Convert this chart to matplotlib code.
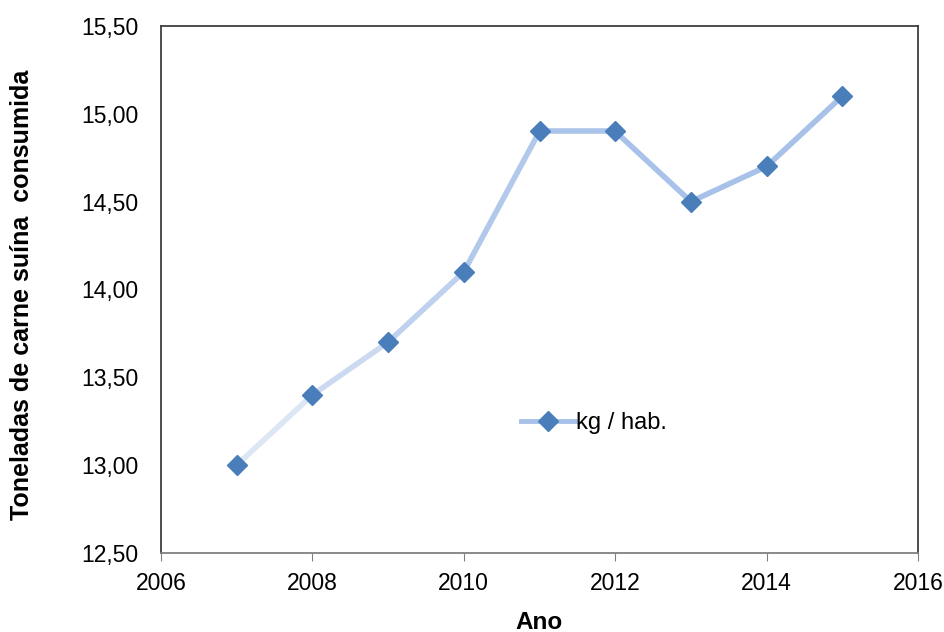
import matplotlib
matplotlib.use("Agg")
import matplotlib.pyplot as plt
from matplotlib.lines import Line2D
from matplotlib.ticker import FuncFormatter

plt.rcParams['font.family'] = ['Liberation Sans', 'DejaVu Sans']

anos = [2007, 2008, 2009, 2010, 2011, 2012, 2013, 2014, 2015]
kg_hab = [13.00, 13.40, 13.70, 14.10, 14.90, 14.90, 14.50, 14.70, 15.10]
serie = "kg / hab."

fig = plt.figure(figsize=(9.45, 6.32), dpi=100)
ax = fig.add_axes([0.1704, 0.125, 0.801, 0.834])

# line fades in from the first point (like the excel gradient)
seg_cols = ['#DCE6F4', '#CBDAF0', '#BED1EE', '#B2C9EB', '#ABC4EA', '#A8C2E9', '#A7C1E9', '#A7C1E9']
for i in range(len(anos) - 1):
    ax.plot(anos[i:i+2], kg_hab[i:i+2], color=seg_cols[i], lw=4, solid_capstyle='round', zorder=2)
ax.plot(anos, kg_hab, ls='none', marker='D', ms=10, color='#4A7EBB', zorder=3)

ax.set_xlim(2006, 2016)
ax.set_ylim(12.5, 15.5)
ax.set_xticks(range(2006, 2017, 2))
ax.set_yticks([12.5, 13.0, 13.5, 14.0, 14.5, 15.0, 15.5])
ax.yaxis.set_major_formatter(FuncFormatter(lambda v, p: f"{v:.2f}".replace('.', ',')))
ax.tick_params(axis='y', length=0, labelsize=16.5, pad=16)
ax.tick_params(axis='x', length=6, color='#808080', labelsize=16.5, pad=8)

for s in ['top', 'right', 'left']:
    ax.spines[s].set_color('#404040')
    ax.spines[s].set_linewidth(1.3)
ax.spines['bottom'].set_color('#808080')
ax.spines['bottom'].set_linewidth(1.3)

ax.set_xlabel("Ano", fontsize=17.5, fontweight='bold', va='center')
ax.set_ylabel("Toneladas de carne suína  consumida", fontsize=18, fontweight='bold', va='center')
ax.xaxis.set_label_coords(0.5, -0.131)
ax.yaxis.set_label_coords(-0.1836, 0.49)

h = Line2D([], [], color='#A7C1E9', lw=3.5, marker='D', ms=10, mfc='#4A7EBB', mec='#4A7EBB')
ax.legend([h], [serie], loc='center left', bbox_to_anchor=(0.447, 0.247), frameon=False,
          fontsize=17, handlelength=2.3, handletextpad=0.05)

fig.savefig("out.png", dpi=100)
